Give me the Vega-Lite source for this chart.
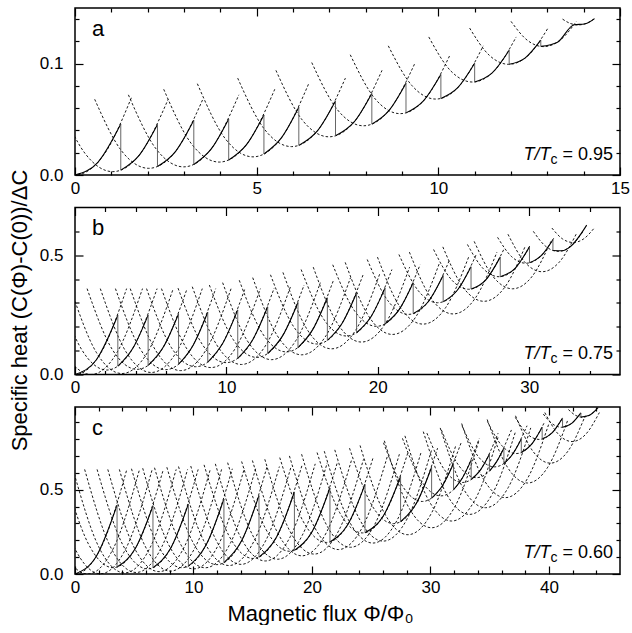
{
"$schema":"https://vega.github.io/schema/vega-lite/v6.json",
"background":"white",
"padding":{"left":7,"top":6,"right":0,"bottom":0},
"spacing":32.5,
"bounds":"flush",
"config":{
 "view":{"stroke":"black","strokeWidth":1.5},
 "font":"Liberation Sans",
 "axis":{"domain":false,"grid":false,"tickColor":"black","tickWidth":1.2,"tickSize":-5,"labelFont":"Liberation Sans","labelFontSize":17,"labelColor":"black","labelPadding":13,"labelFlush":false,"labelOverlap":false,"labelBound":false,"titleFont":"Liberation Sans","titleFontSize":22,"titleFontWeight":"normal","titleColor":"black"},
 "axisLeft":{"labelPadding":20},
 "text":{"font":"Liberation Sans","color":"black"}
},
"datasets":{
"pa":[
{"k":0,"x":-1.559,"y":0.07},{"k":0,"x":-0.78,"y":0.0175},{"k":0,"x":0,"y":0},{"k":0,"x":0.78,"y":0.0175},{"k":0,"x":1.559,"y":0.07},
{"k":1,"x":-0.484,"y":0.068},{"k":1,"x":0.278,"y":0.0193},{"k":1,"x":1.04,"y":0.003},{"k":1,"x":1.802,"y":0.0193},{"k":1,"x":2.564,"y":0.068},
{"k":2,"x":0.542,"y":0.068},{"k":2,"x":1.286,"y":0.0215},{"k":2,"x":2.03,"y":0.006},{"k":2,"x":2.774,"y":0.0215},{"k":2,"x":3.518,"y":0.068},
{"k":3,"x":1.47,"y":0.072},{"k":3,"x":2.23,"y":0.0235},{"k":3,"x":2.99,"y":0.0073},{"k":3,"x":3.75,"y":0.0235},{"k":3,"x":4.51,"y":0.072},
{"k":4,"x":2.442,"y":0.077},{"k":4,"x":3.206,"y":0.028},{"k":4,"x":3.97,"y":0.0116},{"k":4,"x":4.734,"y":0.028},{"k":4,"x":5.498,"y":0.077},
{"k":5,"x":3.368,"y":0.082},{"k":5,"x":4.134,"y":0.0327},{"k":5,"x":4.9,"y":0.0163},{"k":5,"x":5.666,"y":0.0327},{"k":5,"x":6.432,"y":0.082},
{"k":6,"x":4.478,"y":0.087},{"k":6,"x":5.219,"y":0.0409},{"k":6,"x":5.96,"y":0.0255},{"k":6,"x":6.701,"y":0.0409},{"k":6,"x":7.442,"y":0.087},
{"k":7,"x":5.53,"y":0.094},{"k":7,"x":6.26,"y":0.0492},{"k":7,"x":6.99,"y":0.0343},{"k":7,"x":7.72,"y":0.0492},{"k":7,"x":8.45,"y":0.094},
{"k":8,"x":6.516,"y":0.101},{"k":8,"x":7.228,"y":0.0584},{"k":8,"x":7.94,"y":0.0442},{"k":8,"x":8.652,"y":0.0584},{"k":8,"x":9.364,"y":0.101},
{"k":9,"x":7.576,"y":0.108},{"k":9,"x":8.263,"y":0.0683},{"k":9,"x":8.95,"y":0.0551},{"k":9,"x":9.637,"y":0.0683},{"k":9,"x":10.324,"y":0.108},
{"k":10,"x":8.623,"y":0.116},{"k":10,"x":9.277,"y":0.0802},{"k":10,"x":9.93,"y":0.0682},{"k":10,"x":10.584,"y":0.0802},{"k":10,"x":11.237,"y":0.116},
{"k":11,"x":9.737,"y":0.124},{"k":11,"x":10.339,"y":0.0936},{"k":11,"x":10.94,"y":0.0835},{"k":11,"x":11.542,"y":0.0936},{"k":11,"x":12.143,"y":0.124},
{"k":12,"x":10.861,"y":0.132},{"k":12,"x":11.4,"y":0.1076},{"k":12,"x":11.94,"y":0.0994},{"k":12,"x":12.48,"y":0.1076},{"k":12,"x":13.019,"y":0.132},
{"k":13,"x":12.0,"y":0.138},{"k":13,"x":12.45,"y":0.121},{"k":13,"x":12.9,"y":0.1153},{"k":13,"x":13.35,"y":0.121},{"k":13,"x":13.8,"y":0.138},
{"k":14,"x":13.419,"y":0.14},{"k":14,"x":13.635,"y":0.1361},{"k":14,"x":13.85,"y":0.1348},{"k":14,"x":14.066,"y":0.1361},{"k":14,"x":14.281,"y":0.14}
],
"sa":[
{"k":0,"x":0,"y":0},{"k":0,"x":0.63,"y":0.0114},{"k":0,"x":1.26,"y":0.0457},
{"k":1,"x":1.26,"y":0.0044},{"k":1,"x":1.765,"y":0.0177},{"k":1,"x":2.27,"y":0.0454},
{"k":2,"x":2.27,"y":0.0076},{"k":2,"x":2.77,"y":0.0213},{"k":2,"x":3.27,"y":0.0491},
{"k":3,"x":3.27,"y":0.0095},{"k":3,"x":3.75,"y":0.0235},{"k":3,"x":4.23,"y":0.0504},
{"k":4,"x":4.23,"y":0.0135},{"k":4,"x":4.715,"y":0.0271},{"k":4,"x":5.2,"y":0.054},
{"k":5,"x":5.2,"y":0.0188},{"k":5,"x":5.68,"y":0.0333},{"k":5,"x":6.16,"y":0.0608},
{"k":6,"x":6.16,"y":0.0266},{"k":6,"x":6.665,"y":0.0394},{"k":6,"x":7.17,"y":0.0665},
{"k":7,"x":7.17,"y":0.0352},{"k":7,"x":7.67,"y":0.0472},{"k":7,"x":8.17,"y":0.0733},
{"k":8,"x":8.17,"y":0.0457},{"k":8,"x":8.64,"y":0.0579},{"k":8,"x":9.11,"y":0.0825},
{"k":9,"x":9.11,"y":0.0558},{"k":9,"x":9.59,"y":0.0666},{"k":9,"x":10.07,"y":0.0902},
{"k":10,"x":10.07,"y":0.0687},{"k":10,"x":10.535,"y":0.0784},{"k":10,"x":11.0,"y":0.1003},
{"k":11,"x":11.0,"y":0.0836},{"k":11,"x":11.475,"y":0.0915},{"k":11,"x":11.95,"y":0.1121},
{"k":12,"x":11.95,"y":0.0994},{"k":12,"x":12.385,"y":0.105},{"k":12,"x":12.82,"y":0.1211},
{"k":13,"x":12.82,"y":0.1155},{"k":13,"x":13.28,"y":0.1193},{"k":13,"x":13.74,"y":0.135},{"k":13,"x":14.02,"y":0.1356},{"k":13,"x":14.3,"y":0.1405}
],
"ja":[
{"x":1.26,"y":0.0457,"y2":0.0044},{"x":2.27,"y":0.0454,"y2":0.0076},{"x":3.27,"y":0.0491,"y2":0.0095},{"x":4.23,"y":0.0504,"y2":0.0135},{"x":5.2,"y":0.054,"y2":0.0188},{"x":6.16,"y":0.0608,"y2":0.0266},{"x":7.17,"y":0.0665,"y2":0.0352},{"x":8.17,"y":0.0733,"y2":0.0457},{"x":9.11,"y":0.0825,"y2":0.0558},{"x":10.07,"y":0.0902,"y2":0.0687},{"x":11.0,"y":0.1003,"y2":0.0836},{"x":11.95,"y":0.1121,"y2":0.0994},{"x":12.82,"y":0.1211,"y2":0.1155}
],
"pb":[
{"k":0,"x":-3.408,"y":0.36},{"k":0,"x":-1.704,"y":0.09},{"k":0,"x":0,"y":0},{"k":0,"x":1.704,"y":0.09},{"k":0,"x":3.408,"y":0.36},
{"k":1,"x":-2.358,"y":0.36},{"k":1,"x":-0.654,"y":0.09},{"k":1,"x":1.05,"y":0},{"k":1,"x":2.754,"y":0.09},{"k":1,"x":4.458,"y":0.36},
{"k":2,"x":-1.214,"y":0.36},{"k":2,"x":0.445,"y":0.104},{"k":2,"x":2.104,"y":0.0187},{"k":2,"x":3.763,"y":0.104},{"k":2,"x":5.422,"y":0.36},
{"k":3,"x":-0.289,"y":0.36},{"k":3,"x":1.406,"y":0.093},{"k":3,"x":3.1,"y":0.004},{"k":3,"x":4.795,"y":0.093},{"k":3,"x":6.489,"y":0.36},
{"k":4,"x":0.798,"y":0.36},{"k":4,"x":2.45,"y":0.1062},{"k":4,"x":4.102,"y":0.0216},{"k":4,"x":5.754,"y":0.1062},{"k":4,"x":7.406,"y":0.36},
{"k":5,"x":1.672,"y":0.36},{"k":5,"x":3.356,"y":0.0963},{"k":5,"x":5.04,"y":0.0084},{"k":5,"x":6.724,"y":0.0963},{"k":5,"x":8.408,"y":0.36},
{"k":6,"x":2.672,"y":0.36},{"k":6,"x":4.328,"y":0.1052},{"k":6,"x":5.983,"y":0.0202},{"k":6,"x":7.639,"y":0.1052},{"k":6,"x":9.294,"y":0.36},
{"k":7,"x":3.65,"y":0.36},{"k":7,"x":5.315,"y":0.1022},{"k":7,"x":6.98,"y":0.0163},{"k":7,"x":8.645,"y":0.1022},{"k":7,"x":10.31,"y":0.36},
{"k":8,"x":4.726,"y":0.36},{"k":8,"x":6.351,"y":0.1144},{"k":8,"x":7.976,"y":0.0325},{"k":8,"x":9.601,"y":0.1144},{"k":8,"x":11.226,"y":0.36},
{"k":9,"x":5.712,"y":0.36},{"k":9,"x":7.346,"y":0.1118},{"k":9,"x":8.98,"y":0.029},{"k":9,"x":10.614,"y":0.1118},{"k":9,"x":12.248,"y":0.36},
{"k":10,"x":6.805,"y":0.362},{"k":10,"x":8.393,"y":0.1277},{"k":10,"x":9.98,"y":0.0496},{"k":10,"x":11.568,"y":0.1277},{"k":10,"x":13.155,"y":0.362},
{"k":11,"x":7.747,"y":0.368},{"k":11,"x":9.369,"y":0.1235},{"k":11,"x":10.99,"y":0.042},{"k":11,"x":12.612,"y":0.1235},{"k":11,"x":14.233,"y":0.368},
{"k":12,"x":8.876,"y":0.375},{"k":12,"x":10.44,"y":0.1475},{"k":12,"x":12.004,"y":0.0717},{"k":12,"x":13.568,"y":0.1475},{"k":12,"x":15.132,"y":0.375},
{"k":13,"x":9.753,"y":0.385},{"k":13,"x":11.367,"y":0.1429},{"k":13,"x":12.98,"y":0.0622},{"k":13,"x":14.594,"y":0.1429},{"k":13,"x":16.207,"y":0.385},
{"k":14,"x":10.85,"y":0.395},{"k":14,"x":12.406,"y":0.1698},{"k":14,"x":13.962,"y":0.0947},{"k":14,"x":15.518,"y":0.1698},{"k":14,"x":17.074,"y":0.395},
{"k":15,"x":11.739,"y":0.406},{"k":15,"x":13.355,"y":0.1634},{"k":15,"x":14.97,"y":0.0825},{"k":15,"x":16.586,"y":0.1634},{"k":15,"x":18.201,"y":0.406},
{"k":16,"x":12.913,"y":0.418},{"k":16,"x":14.443,"y":0.2004},{"k":16,"x":15.972,"y":0.1279},{"k":16,"x":17.502,"y":0.2004},{"k":16,"x":19.031,"y":0.418},
{"k":17,"x":13.735,"y":0.428},{"k":17,"x":15.343,"y":0.1877},{"k":17,"x":16.95,"y":0.1076},{"k":17,"x":18.558,"y":0.1877},{"k":17,"x":20.165,"y":0.428},
{"k":18,"x":14.938,"y":0.44},{"k":18,"x":16.437,"y":0.231},{"k":18,"x":17.936,"y":0.1613},{"k":18,"x":19.435,"y":0.231},{"k":18,"x":20.934,"y":0.44},
{"k":19,"x":15.737,"y":0.45},{"k":19,"x":17.329,"y":0.2145},{"k":19,"x":18.92,"y":0.136},{"k":19,"x":20.512,"y":0.2145},{"k":19,"x":22.103,"y":0.45},
{"k":20,"x":17.025,"y":0.46},{"k":20,"x":18.468,"y":0.2664},{"k":20,"x":19.91,"y":0.2019},{"k":20,"x":21.353,"y":0.2664},{"k":20,"x":22.795,"y":0.46},
{"k":21,"x":17.848,"y":0.47},{"k":21,"x":19.409,"y":0.2434},{"k":21,"x":20.97,"y":0.1679},{"k":21,"x":22.531,"y":0.2434},{"k":21,"x":24.092,"y":0.47},
{"k":22,"x":19.303,"y":0.482},{"k":22,"x":20.665,"y":0.3095},{"k":22,"x":22.027,"y":0.252},{"k":22,"x":23.389,"y":0.3095},{"k":22,"x":24.751,"y":0.482},
{"k":23,"x":19.98,"y":0.492},{"k":23,"x":21.485,"y":0.2814},{"k":23,"x":22.99,"y":0.2112},{"k":23,"x":24.495,"y":0.2814},{"k":23,"x":26.0,"y":0.492},
{"k":24,"x":21.397,"y":0.503},{"k":24,"x":22.674,"y":0.3513},{"k":24,"x":23.951,"y":0.3008},{"k":24,"x":25.228,"y":0.3513},{"k":24,"x":26.505,"y":0.503},
{"k":25,"x":22.088,"y":0.513},{"k":25,"x":23.534,"y":0.3186},{"k":25,"x":24.98,"y":0.2538},{"k":25,"x":26.426,"y":0.3186},{"k":25,"x":27.872,"y":0.513},
{"k":26,"x":23.686,"y":0.524},{"k":26,"x":24.846,"y":0.399},{"k":26,"x":26.005,"y":0.3573},{"k":26,"x":27.165,"y":0.399},{"k":26,"x":28.324,"y":0.524},
{"k":27,"x":24.297,"y":0.535},{"k":27,"x":25.654,"y":0.3639},{"k":27,"x":27.01,"y":0.3068},{"k":27,"x":28.367,"y":0.3639},{"k":27,"x":29.723,"y":0.535},
{"k":28,"x":25.922,"y":0.545},{"k":28,"x":26.966,"y":0.4436},{"k":28,"x":28.01,"y":0.4098},{"k":28,"x":29.054,"y":0.4436},{"k":28,"x":30.098,"y":0.545},
{"k":29,"x":26.368,"y":0.558},{"k":29,"x":27.634,"y":0.4089},{"k":29,"x":28.9,"y":0.3592},{"k":29,"x":30.166,"y":0.4089},{"k":29,"x":31.432,"y":0.558},
{"k":30,"x":27.913,"y":0.575},{"k":30,"x":28.85,"y":0.4935},{"k":30,"x":29.786,"y":0.4663},{"k":30,"x":30.723,"y":0.4935},{"k":30,"x":31.659,"y":0.575},
{"k":31,"x":28.598,"y":0.588},{"k":31,"x":29.724,"y":0.4701},{"k":31,"x":30.85,"y":0.4308},{"k":31,"x":31.976,"y":0.4701},{"k":31,"x":33.102,"y":0.588},
{"k":32,"x":30.274,"y":0.6},{"k":32,"x":31.097,"y":0.537},{"k":32,"x":31.92,"y":0.516},{"k":32,"x":32.743,"y":0.537},{"k":32,"x":33.566,"y":0.6},
{"k":33,"x":31.501,"y":0.614},{"k":33,"x":32.2,"y":0.5685},{"k":33,"x":32.9,"y":0.5533},{"k":33,"x":33.6,"y":0.5685},{"k":33,"x":34.299,"y":0.614}
],
"sb":[
{"k":0,"x":0,"y":0},{"k":0,"x":1.415,"y":0.062},{"k":0,"x":2.83,"y":0.248},
{"k":1,"x":2.83,"y":0.035},{"k":1,"x":3.83,"y":0.111},{"k":1,"x":4.83,"y":0.249},
{"k":2,"x":4.83,"y":0.038},{"k":2,"x":5.835,"y":0.115},{"k":2,"x":6.84,"y":0.254},
{"k":3,"x":6.84,"y":0.043},{"k":3,"x":7.805,"y":0.123},{"k":3,"x":8.77,"y":0.261},
{"k":4,"x":8.77,"y":0.052},{"k":4,"x":9.76,"y":0.131},{"k":4,"x":10.75,"y":0.271},
{"k":5,"x":10.75,"y":0.068},{"k":5,"x":11.74,"y":0.146},{"k":5,"x":12.73,"y":0.284},
{"k":6,"x":12.73,"y":0.088},{"k":6,"x":13.73,"y":0.164},{"k":6,"x":14.73,"y":0.302},
{"k":7,"x":14.73,"y":0.113},{"k":7,"x":15.7,"y":0.188},{"k":7,"x":16.67,"y":0.322},
{"k":8,"x":16.67,"y":0.143},{"k":8,"x":17.635,"y":0.214},{"k":8,"x":18.6,"y":0.342},
{"k":9,"x":18.6,"y":0.175},{"k":9,"x":19.54,"y":0.241},{"k":9,"x":20.48,"y":0.362},
{"k":10,"x":20.48,"y":0.212},{"k":10,"x":21.41,"y":0.272},{"k":10,"x":22.34,"y":0.385},
{"k":11,"x":22.34,"y":0.255},{"k":11,"x":23.33,"y":0.305},{"k":11,"x":24.32,"y":0.415},
{"k":12,"x":24.32,"y":0.305},{"k":12,"x":25.24,"y":0.352},{"k":12,"x":26.16,"y":0.452},
{"k":13,"x":26.16,"y":0.358},{"k":13,"x":27.125,"y":0.396},{"k":13,"x":28.09,"y":0.492},
{"k":14,"x":28.09,"y":0.41},{"k":14,"x":29.055,"y":0.444},{"k":14,"x":30.02,"y":0.535},
{"k":15,"x":30.02,"y":0.468},{"k":15,"x":30.795,"y":0.498},{"k":15,"x":31.57,"y":0.565},
{"k":16,"x":31.57,"y":0.52},{"k":16,"x":32.2,"y":0.519},{"k":16,"x":32.685,"y":0.534},{"k":16,"x":33.8,"y":0.626}
],
"jb":[
{"x":2.83,"y":0.248,"y2":0.035},{"x":4.83,"y":0.249,"y2":0.038},{"x":6.84,"y":0.254,"y2":0.043},{"x":8.77,"y":0.261,"y2":0.052},{"x":10.75,"y":0.271,"y2":0.068},{"x":12.73,"y":0.284,"y2":0.088},{"x":14.73,"y":0.302,"y2":0.113},{"x":16.67,"y":0.322,"y2":0.143},{"x":18.6,"y":0.342,"y2":0.175},{"x":20.48,"y":0.362,"y2":0.212},{"x":22.34,"y":0.385,"y2":0.255},{"x":24.32,"y":0.415,"y2":0.305},{"x":26.16,"y":0.452,"y2":0.358},{"x":28.09,"y":0.492,"y2":0.41},{"x":30.02,"y":0.535,"y2":0.468},{"x":31.57,"y":0.565,"y2":0.52}
],
"pc":[
{"k":0,"x":-4.374,"y":0.62},{"k":0,"x":-2.187,"y":0.155},{"k":0,"x":0,"y":0},{"k":0,"x":2.187,"y":0.155},{"k":0,"x":4.374,"y":0.62},
{"k":1,"x":-3.302,"y":0.62},{"k":1,"x":-1.115,"y":0.155},{"k":1,"x":1.072,"y":0},{"k":1,"x":3.259,"y":0.155},{"k":1,"x":5.446,"y":0.62},
{"k":2,"x":-2.227,"y":0.62},{"k":2,"x":-0.042,"y":0.1558},{"k":2,"x":2.144,"y":0.0011},{"k":2,"x":4.33,"y":0.1558},{"k":2,"x":6.515,"y":0.62},
{"k":3,"x":-1.025,"y":0.62},{"k":3,"x":1.096,"y":0.1831},{"k":3,"x":3.216,"y":0.0374},{"k":3,"x":5.337,"y":0.1831},{"k":3,"x":7.457,"y":0.62},
{"k":4,"x":-0.165,"y":0.62},{"k":4,"x":2.011,"y":0.1598},{"k":4,"x":4.187,"y":0.0064},{"k":4,"x":6.363,"y":0.1598},{"k":4,"x":8.539,"y":0.62},
{"k":5,"x":0.815,"y":0.62},{"k":5,"x":2.987,"y":0.1617},{"k":5,"x":5.158,"y":0.0089},{"k":5,"x":7.33,"y":0.1617},{"k":5,"x":9.501,"y":0.62},
{"k":6,"x":1.864,"y":0.62},{"k":6,"x":3.997,"y":0.1778},{"k":6,"x":6.13,"y":0.0304},{"k":6,"x":8.263,"y":0.1778},{"k":6,"x":10.396,"y":0.62},
{"k":7,"x":2.769,"y":0.62},{"k":7,"x":4.932,"y":0.1654},{"k":7,"x":7.094,"y":0.0139},{"k":7,"x":9.257,"y":0.1654},{"k":7,"x":11.419,"y":0.62},
{"k":8,"x":3.744,"y":0.62},{"k":8,"x":5.901,"y":0.1678},{"k":8,"x":8.058,"y":0.0171},{"k":8,"x":10.215,"y":0.1678},{"k":8,"x":12.372,"y":0.62},
{"k":9,"x":4.768,"y":0.624},{"k":9,"x":6.896,"y":0.184},{"k":9,"x":9.023,"y":0.0373},{"k":9,"x":11.151,"y":0.184},{"k":9,"x":13.278,"y":0.624},
{"k":10,"x":5.715,"y":0.627},{"k":10,"x":7.861,"y":0.1794},{"k":10,"x":10.007,"y":0.0302},{"k":10,"x":12.153,"y":0.1794},{"k":10,"x":14.299,"y":0.627},
{"k":11,"x":6.712,"y":0.63},{"k":11,"x":8.852,"y":0.1851},{"k":11,"x":10.991,"y":0.0368},{"k":11,"x":13.131,"y":0.1851},{"k":11,"x":15.27,"y":0.63},
{"k":12,"x":7.753,"y":0.633},{"k":12,"x":9.864,"y":0.1999},{"k":12,"x":11.975,"y":0.0555},{"k":12,"x":14.086,"y":0.1999},{"k":12,"x":16.197,"y":0.633},
{"k":13,"x":8.738,"y":0.637},{"k":13,"x":10.866,"y":0.1969},{"k":13,"x":12.994,"y":0.0502},{"k":13,"x":15.122,"y":0.1969},{"k":13,"x":17.25,"y":0.637},
{"k":14,"x":9.771,"y":0.64},{"k":14,"x":11.892,"y":0.2028},{"k":14,"x":14.013,"y":0.0571},{"k":14,"x":16.134,"y":0.2028},{"k":14,"x":18.255,"y":0.64},
{"k":15,"x":10.894,"y":0.647},{"k":15,"x":12.964,"y":0.2308},{"k":15,"x":15.033,"y":0.092},{"k":15,"x":17.103,"y":0.2308},{"k":15,"x":19.172,"y":0.647},
{"k":16,"x":11.846,"y":0.653},{"k":16,"x":13.954,"y":0.2212},{"k":16,"x":16.061,"y":0.0773},{"k":16,"x":18.169,"y":0.2212},{"k":16,"x":20.276,"y":0.653},
{"k":17,"x":12.885,"y":0.66},{"k":17,"x":14.987,"y":0.2306},{"k":17,"x":17.089,"y":0.0874},{"k":17,"x":19.191,"y":0.2306},{"k":17,"x":21.293,"y":0.66},
{"k":18,"x":14.064,"y":0.667},{"k":18,"x":16.091,"y":0.2678},{"k":18,"x":18.117,"y":0.1347},{"k":18,"x":20.144,"y":0.2678},{"k":18,"x":22.17,"y":0.667},
{"k":19,"x":14.975,"y":0.673},{"k":19,"x":17.064,"y":0.249},{"k":19,"x":19.152,"y":0.1077},{"k":19,"x":21.241,"y":0.249},{"k":19,"x":23.329,"y":0.673},
{"k":20,"x":16.022,"y":0.68},{"k":20,"x":18.105,"y":0.2585},{"k":20,"x":20.187,"y":0.118},{"k":20,"x":22.27,"y":0.2585},{"k":20,"x":24.352,"y":0.68},
{"k":21,"x":17.282,"y":0.69},{"k":21,"x":19.252,"y":0.3128},{"k":21,"x":21.222,"y":0.1871},{"k":21,"x":23.192,"y":0.3128},{"k":21,"x":25.162,"y":0.69},
{"k":22,"x":18.098,"y":0.7},{"k":22,"x":20.168,"y":0.2837},{"k":22,"x":22.237,"y":0.1449},{"k":22,"x":24.307,"y":0.2837},{"k":22,"x":26.376,"y":0.7},
{"k":23,"x":19.126,"y":0.71},{"k":23,"x":21.189,"y":0.2963},{"k":23,"x":23.252,"y":0.1584},{"k":23,"x":25.315,"y":0.2963},{"k":23,"x":27.378,"y":0.71},
{"k":24,"x":20.432,"y":0.72},{"k":24,"x":22.35,"y":0.3626},{"k":24,"x":24.267,"y":0.2435},{"k":24,"x":26.185,"y":0.3626},{"k":24,"x":28.102,"y":0.72},
{"k":25,"x":21.04,"y":0.728},{"k":25,"x":23.09,"y":0.3195},{"k":25,"x":25.14,"y":0.1833},{"k":25,"x":27.19,"y":0.3195},{"k":25,"x":29.24,"y":0.728},
{"k":26,"x":21.927,"y":0.736},{"k":26,"x":23.971,"y":0.3302},{"k":26,"x":26.014,"y":0.1949},{"k":26,"x":28.058,"y":0.3302},{"k":26,"x":30.101,"y":0.736},
{"k":27,"x":23.171,"y":0.746},{"k":27,"x":25.029,"y":0.4105},{"k":27,"x":26.887,"y":0.2986},{"k":27,"x":28.745,"y":0.4105},{"k":27,"x":30.603,"y":0.746},
{"k":28,"x":24.059,"y":0.762},{"k":28,"x":26.08,"y":0.3652},{"k":28,"x":28.1,"y":0.2329},{"k":28,"x":30.121,"y":0.3652},{"k":28,"x":32.141,"y":0.762},
{"k":29,"x":26.038,"y":0.778},{"k":29,"x":27.677,"y":0.517},{"k":29,"x":29.315,"y":0.43},{"k":29,"x":30.954,"y":0.517},{"k":29,"x":32.592,"y":0.778},
{"k":30,"x":26.11,"y":0.79},{"k":30,"x":28.105,"y":0.4031},{"k":30,"x":30.1,"y":0.2741},{"k":30,"x":32.095,"y":0.4031},{"k":30,"x":34.09,"y":0.79},
{"k":31,"x":27.639,"y":0.804},{"k":31,"x":29.261,"y":0.5483},{"k":31,"x":30.883,"y":0.463},{"k":31,"x":32.505,"y":0.5483},{"k":31,"x":34.127,"y":0.804},
{"k":32,"x":27.847,"y":0.819},{"k":32,"x":29.821,"y":0.4403},{"k":32,"x":31.795,"y":0.314},{"k":32,"x":33.769,"y":0.4403},{"k":32,"x":35.743,"y":0.819},
{"k":33,"x":29.703,"y":0.835},{"k":33,"x":31.205,"y":0.6157},{"k":33,"x":32.707,"y":0.5426},{"k":33,"x":34.209,"y":0.6157},{"k":33,"x":35.711,"y":0.835},
{"k":34,"x":29.398,"y":0.844},{"k":34,"x":31.344,"y":0.476},{"k":34,"x":33.29,"y":0.3533},{"k":34,"x":35.236,"y":0.476},{"k":34,"x":37.182,"y":0.844},
{"k":35,"x":30.924,"y":0.854},{"k":35,"x":32.402,"y":0.6418},{"k":35,"x":33.88,"y":0.571},{"k":35,"x":35.358,"y":0.6418},{"k":35,"x":36.836,"y":0.854},
{"k":36,"x":30.824,"y":0.866},{"k":36,"x":32.735,"y":0.5113},{"k":36,"x":34.645,"y":0.393},{"k":36,"x":36.556,"y":0.5113},{"k":36,"x":38.466,"y":0.866},
{"k":37,"x":32.666,"y":0.879},{"k":37,"x":34.038,"y":0.696},{"k":37,"x":35.41,"y":0.635},{"k":37,"x":36.782,"y":0.696},{"k":37,"x":38.154,"y":0.879},
{"k":38,"x":32.637,"y":0.892},{"k":38,"x":34.479,"y":0.5625},{"k":38,"x":36.32,"y":0.4526},{"k":38,"x":38.162,"y":0.5625},{"k":38,"x":40.003,"y":0.892},
{"k":39,"x":34.813,"y":0.904},{"k":39,"x":36.024,"y":0.7614},{"k":39,"x":37.235,"y":0.7139},{"k":39,"x":38.446,"y":0.7614},{"k":39,"x":39.657,"y":0.904},
{"k":40,"x":34.79,"y":0.916},{"k":40,"x":36.495,"y":0.6335},{"k":40,"x":38.2,"y":0.5393},{"k":40,"x":39.905,"y":0.6335},{"k":40,"x":41.61,"y":0.916},
{"k":41,"x":37.165,"y":0.928},{"k":41,"x":38.168,"y":0.8304},{"k":41,"x":39.17,"y":0.7978},{"k":41,"x":40.173,"y":0.8304},{"k":41,"x":41.175,"y":0.928},
{"k":42,"x":37.181,"y":0.938},{"k":42,"x":38.653,"y":0.7273},{"k":42,"x":40.125,"y":0.6571},{"k":42,"x":41.597,"y":0.7273},{"k":42,"x":43.069,"y":0.938},
{"k":43,"x":39.526,"y":0.948},{"k":43,"x":40.303,"y":0.8894},{"k":43,"x":41.08,"y":0.8698},{"k":43,"x":41.857,"y":0.8894},{"k":43,"x":42.634,"y":0.948},
{"k":44,"x":39.652,"y":0.957},{"k":44,"x":40.804,"y":0.8282},{"k":44,"x":41.955,"y":0.7852},{"k":44,"x":43.107,"y":0.8282},{"k":44,"x":44.258,"y":0.957},
{"k":45,"x":41.645,"y":0.975},{"k":45,"x":42.238,"y":0.9409},{"k":45,"x":42.83,"y":0.9295},{"k":45,"x":43.423,"y":0.9409},{"k":45,"x":44.015,"y":0.975}
],
"sc":[
{"k":0,"x":0,"y":0},{"k":0,"x":1.775,"y":0.102},{"k":0,"x":3.55,"y":0.408},
{"k":1,"x":3.55,"y":0.041},{"k":1,"x":5.065,"y":0.148},{"k":1,"x":6.58,"y":0.404},
{"k":2,"x":6.58,"y":0.037},{"k":2,"x":8.075,"y":0.153},{"k":2,"x":9.57,"y":0.414},
{"k":3,"x":9.57,"y":0.047},{"k":3,"x":11.07,"y":0.173},{"k":3,"x":12.57,"y":0.445},
{"k":4,"x":12.57,"y":0.067},{"k":4,"x":14.05,"y":0.195},{"k":4,"x":15.53,"y":0.465},
{"k":5,"x":15.53,"y":0.1},{"k":5,"x":17.025,"y":0.221},{"k":5,"x":18.52,"y":0.486},
{"k":6,"x":18.52,"y":0.14},{"k":6,"x":20.02,"y":0.252},{"k":6,"x":21.52,"y":0.51},
{"k":7,"x":21.52,"y":0.19},{"k":7,"x":23.0,"y":0.29},{"k":7,"x":24.48,"y":0.531},
{"k":8,"x":24.48,"y":0.245},{"k":8,"x":25.98,"y":0.339},{"k":8,"x":27.48,"y":0.578},
{"k":9,"x":27.48,"y":0.31},{"k":9,"x":28.79,"y":0.416},{"k":9,"x":30.1,"y":0.633},
{"k":10,"x":30.1,"y":0.45},{"k":10,"x":31.025,"y":0.525},{"k":10,"x":31.95,"y":0.655},
{"k":11,"x":31.95,"y":0.5},{"k":11,"x":32.695,"y":0.569},{"k":11,"x":33.44,"y":0.675},
{"k":12,"x":33.44,"y":0.56},{"k":12,"x":34.21,"y":0.616},{"k":12,"x":34.98,"y":0.71},
{"k":13,"x":34.98,"y":0.61},{"k":13,"x":35.59,"y":0.666},{"k":13,"x":36.2,"y":0.745},
{"k":14,"x":36.2,"y":0.655},{"k":14,"x":36.935,"y":0.71},{"k":14,"x":37.67,"y":0.8},
{"k":15,"x":37.67,"y":0.72},{"k":15,"x":38.55,"y":0.77},{"k":15,"x":39.43,"y":0.87},
{"k":16,"x":39.43,"y":0.8},{"k":16,"x":40.29,"y":0.838},{"k":16,"x":41.15,"y":0.925},
{"k":17,"x":41.15,"y":0.87},{"k":17,"x":41.925,"y":0.893},{"k":17,"x":42.7,"y":0.955},
{"k":18,"x":42.7,"y":0.93},{"k":18,"x":43.425,"y":0.941},{"k":18,"x":44.15,"y":0.986}
],
"jc":[
{"x":3.55,"y":0.408,"y2":0.041},{"x":6.58,"y":0.404,"y2":0.037},{"x":9.57,"y":0.414,"y2":0.047},{"x":12.57,"y":0.445,"y2":0.067},{"x":15.53,"y":0.465,"y2":0.1},{"x":18.52,"y":0.486,"y2":0.14},{"x":21.52,"y":0.51,"y2":0.19},{"x":24.48,"y":0.531,"y2":0.245},{"x":27.48,"y":0.578,"y2":0.31},{"x":30.1,"y":0.633,"y2":0.45},{"x":31.95,"y":0.655,"y2":0.5},{"x":33.44,"y":0.675,"y2":0.56},{"x":34.98,"y":0.71,"y2":0.61},{"x":36.2,"y":0.745,"y2":0.655},{"x":37.67,"y":0.8,"y2":0.72},{"x":39.43,"y":0.87,"y2":0.8},{"x":41.15,"y":0.925,"y2":0.87},{"x":42.7,"y":0.955,"y2":0.93}
]
},
"vconcat":[
{"width":545,"height":167,
 "resolve":{"axis":{"x":"independent","y":"independent"}},
 "layer":[
  {"data":{"name":"pa"},"mark":{"type":"line","interpolate":"monotone","strokeDash":[2.5,2],"strokeWidth":0.9,"color":"black","clip":true},
   "encoding":{
    "x":{"field":"x","type":"quantitative","scale":{"domain":[0,15],"nice":false,"zero":false},"axis":{"orient":"bottom","values":[0,1,2,3,4,5,6,7,8,9,10,11,12,13,14,15],"labelExpr":"datum.value % 5 === 0 ? datum.label : ''","tickSize":{"condition":{"test":"datum.value % 5 === 0","value":-8},"value":-4},"title":null}},
    "y":{"field":"y","type":"quantitative","scale":{"domain":[0,0.15],"nice":false,"zero":false},"axis":{"orient":"left","values":[0,0.02,0.04,0.06,0.08,0.1,0.12,0.14],"labelExpr":"round(datum.value*100) % 10 === 0 ? format(datum.value, '.1f') : ''","tickSize":{"condition":{"test":"round(datum.value*100) % 10 === 0","value":-8},"value":-4},"title":null}},
    "detail":{"field":"k","type":"nominal"}}},
  {"data":{"name":"sa"},"mark":{"type":"line","interpolate":"monotone","strokeWidth":1.1,"color":"black","clip":true},
   "encoding":{
    "x":{"field":"x","type":"quantitative","axis":{"orient":"top","values":[0,1,2,3,4,5,6,7,8,9,10,11,12,13,14,15],"labels":false,"tickSize":{"condition":{"test":"datum.value % 5 === 0","value":-8},"value":-4},"title":null}},
    "y":{"field":"y","type":"quantitative","axis":{"orient":"right","values":[0,0.02,0.04,0.06,0.08,0.1,0.12,0.14],"labels":false,"tickSize":{"condition":{"test":"round(datum.value*100) % 10 === 0","value":-8},"value":-4},"title":null}},
    "detail":{"field":"k","type":"nominal"}}},
  {"data":{"name":"ja"},"mark":{"type":"rule","strokeWidth":0.9,"color":"#555"},
   "encoding":{"x":{"field":"x","type":"quantitative","axis":null},"y":{"field":"y","type":"quantitative","axis":null},"y2":{"field":"y2"}}},
  {"data":{"values":[{}]},"mark":{"type":"text","text":"a","fontSize":22,"align":"left","baseline":"alphabetic"},
   "encoding":{"x":{"datum":0.47,"type":"quantitative","axis":null},"y":{"datum":0.1249,"type":"quantitative","axis":null}}},
  {"data":{"values":[{}]},"mark":{"type":"text","text":"= 0.95","fontSize":18,"align":"right","baseline":"alphabetic"},
   "encoding":{"x":{"datum":14.81,"type":"quantitative","axis":null},"y":{"datum":0.0139,"type":"quantitative","axis":null}}},
  {"data":{"values":[{}]},"mark":{"type":"text","text":"c","fontSize":14,"align":"right","baseline":"alphabetic","dx":-55.5,"dy":4},
   "encoding":{"x":{"datum":14.81,"type":"quantitative","axis":null},"y":{"datum":0.0139,"type":"quantitative","axis":null}}},
  {"data":{"values":[{}]},"mark":{"type":"text","text":"T/T","fontSize":18,"fontStyle":"italic","align":"right","baseline":"alphabetic","dx":-62.5},
   "encoding":{"x":{"datum":14.81,"type":"quantitative","axis":null},"y":{"datum":0.0139,"type":"quantitative","axis":null}}}
 ]},
{"width":545,"height":167,
 "resolve":{"axis":{"x":"independent","y":"independent"}},
 "layer":[
  {"data":{"name":"pb"},"mark":{"type":"line","interpolate":"monotone","strokeDash":[2.5,2],"strokeWidth":0.9,"color":"black","clip":true},
   "encoding":{
    "x":{"field":"x","type":"quantitative","scale":{"domain":[0,36],"nice":false,"zero":false},"axis":{"orient":"bottom","values":[0,2,4,6,8,10,12,14,16,18,20,22,24,26,28,30,32,34],"labelExpr":"datum.value % 10 === 0 ? datum.label : ''","tickSize":{"condition":{"test":"datum.value % 10 === 0","value":-8},"value":-4},"title":null}},
    "y":{"field":"y","type":"quantitative","scale":{"domain":[0,0.7],"nice":false,"zero":false},"axis":{"orient":"left","values":[0,0.1,0.2,0.3,0.4,0.5,0.6],"labelExpr":"round(datum.value*10) % 5 === 0 ? format(datum.value, '.1f') : ''","tickSize":{"condition":{"test":"round(datum.value*10) % 5 === 0","value":-8},"value":-4},"title":"Specific heat (C(Φ)-C(0))/ΔC","titleX":-56,"titleY":102.5,"titleAngle":-90,"titleAlign":"center","titleBaseline":"middle"}},
    "detail":{"field":"k","type":"nominal"}}},
  {"data":{"name":"sb"},"mark":{"type":"line","interpolate":"monotone","strokeWidth":1.1,"color":"black","clip":true},
   "encoding":{
    "x":{"field":"x","type":"quantitative","axis":{"orient":"top","values":[0,2,4,6,8,10,12,14,16,18,20,22,24,26,28,30,32,34],"labels":false,"tickSize":{"condition":{"test":"datum.value % 10 === 0","value":-8},"value":-4},"title":null}},
    "y":{"field":"y","type":"quantitative","axis":{"orient":"right","values":[0,0.1,0.2,0.3,0.4,0.5,0.6],"labels":false,"tickSize":{"condition":{"test":"round(datum.value*10) % 5 === 0","value":-8},"value":-4},"title":null}},
    "detail":{"field":"k","type":"nominal"}}},
  {"data":{"name":"jb"},"mark":{"type":"rule","strokeWidth":0.9,"color":"#555"},
   "encoding":{"x":{"field":"x","type":"quantitative","axis":null},"y":{"field":"y","type":"quantitative","axis":null},"y2":{"field":"y2"}}},
  {"data":{"values":[{}]},"mark":{"type":"text","text":"b","fontSize":22,"align":"left","baseline":"alphabetic"},
   "encoding":{"x":{"datum":1.12,"type":"quantitative","axis":null},"y":{"datum":0.583,"type":"quantitative","axis":null}}},
  {"data":{"values":[{}]},"mark":{"type":"text","text":"= 0.75","fontSize":18,"align":"right","baseline":"alphabetic"},
   "encoding":{"x":{"datum":35.54,"type":"quantitative","axis":null},"y":{"datum":0.065,"type":"quantitative","axis":null}}},
  {"data":{"values":[{}]},"mark":{"type":"text","text":"c","fontSize":14,"align":"right","baseline":"alphabetic","dx":-55.5,"dy":4},
   "encoding":{"x":{"datum":35.54,"type":"quantitative","axis":null},"y":{"datum":0.065,"type":"quantitative","axis":null}}},
  {"data":{"values":[{}]},"mark":{"type":"text","text":"T/T","fontSize":18,"fontStyle":"italic","align":"right","baseline":"alphabetic","dx":-62.5},
   "encoding":{"x":{"datum":35.54,"type":"quantitative","axis":null},"y":{"datum":0.065,"type":"quantitative","axis":null}}}
 ]},
{"width":545,"height":167,
 "resolve":{"axis":{"x":"independent","y":"independent"}},
 "layer":[
  {"data":{"name":"pc"},"mark":{"type":"line","interpolate":"monotone","strokeDash":[2.5,2],"strokeWidth":0.9,"color":"black","clip":true},
   "encoding":{
    "x":{"field":"x","type":"quantitative","scale":{"domain":[0,46],"nice":false,"zero":false},"axis":{"orient":"bottom","values":[0,2,4,6,8,10,12,14,16,18,20,22,24,26,28,30,32,34,36,38,40,42,44],"labelExpr":"datum.value % 10 === 0 ? datum.label : ''","tickSize":{"condition":{"test":"datum.value % 10 === 0","value":-8},"value":-4},"title":"Magnetic flux Φ/Φ₀","titleX":245,"titleY":39,"titleBaseline":"middle"}},
    "y":{"field":"y","type":"quantitative","scale":{"domain":[0,0.99],"nice":false,"zero":false},"axis":{"orient":"left","values":[0,0.1,0.2,0.3,0.4,0.5,0.6,0.7,0.8,0.9],"labelExpr":"round(datum.value*10) % 5 === 0 ? format(datum.value, '.1f') : ''","tickSize":{"condition":{"test":"round(datum.value*10) % 5 === 0","value":-8},"value":-4},"title":null}},
    "detail":{"field":"k","type":"nominal"}}},
  {"data":{"name":"sc"},"mark":{"type":"line","interpolate":"monotone","strokeWidth":1.1,"color":"black","clip":true},
   "encoding":{
    "x":{"field":"x","type":"quantitative","axis":{"orient":"top","values":[0,2,4,6,8,10,12,14,16,18,20,22,24,26,28,30,32,34,36,38,40,42,44],"labels":false,"tickSize":{"condition":{"test":"datum.value % 10 === 0","value":-8},"value":-4},"title":null}},
    "y":{"field":"y","type":"quantitative","axis":{"orient":"right","values":[0,0.1,0.2,0.3,0.4,0.5,0.6,0.7,0.8,0.9],"labels":false,"tickSize":{"condition":{"test":"round(datum.value*10) % 5 === 0","value":-8},"value":-4},"title":null}},
    "detail":{"field":"k","type":"nominal"}}},
  {"data":{"name":"jc"},"mark":{"type":"rule","strokeWidth":0.9,"color":"#555"},
   "encoding":{"x":{"field":"x","type":"quantitative","axis":null},"y":{"field":"y","type":"quantitative","axis":null},"y2":{"field":"y2"}}},
  {"data":{"values":[{}]},"mark":{"type":"text","text":"c","fontSize":22,"align":"left","baseline":"alphabetic"},
   "encoding":{"x":{"datum":1.43,"type":"quantitative","axis":null},"y":{"datum":0.824,"type":"quantitative","axis":null}}},
  {"data":{"values":[{}]},"mark":{"type":"text","text":"= 0.60","fontSize":18,"align":"right","baseline":"alphabetic"},
   "encoding":{"x":{"datum":45.41,"type":"quantitative","axis":null},"y":{"datum":0.092,"type":"quantitative","axis":null}}},
  {"data":{"values":[{}]},"mark":{"type":"text","text":"c","fontSize":14,"align":"right","baseline":"alphabetic","dx":-55.5,"dy":4},
   "encoding":{"x":{"datum":45.41,"type":"quantitative","axis":null},"y":{"datum":0.092,"type":"quantitative","axis":null}}},
  {"data":{"values":[{}]},"mark":{"type":"text","text":"T/T","fontSize":18,"fontStyle":"italic","align":"right","baseline":"alphabetic","dx":-62.5},
   "encoding":{"x":{"datum":45.41,"type":"quantitative","axis":null},"y":{"datum":0.092,"type":"quantitative","axis":null}}}
 ]}
]
}
